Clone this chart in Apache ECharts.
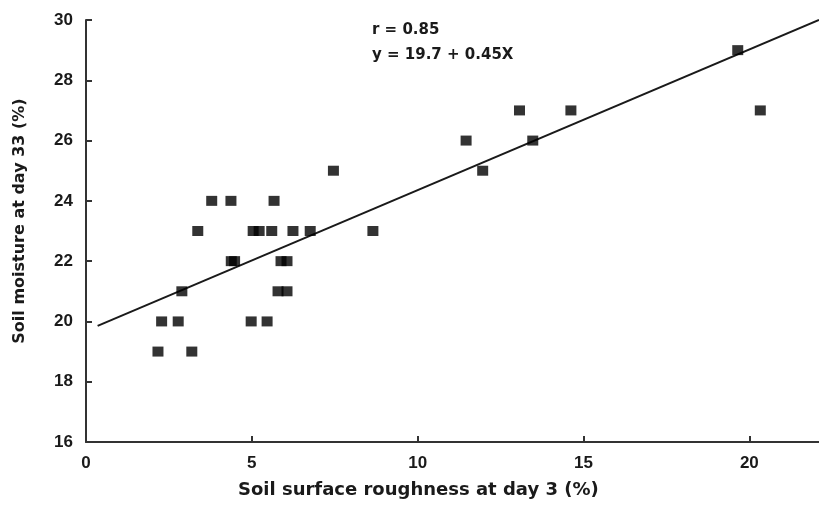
<!DOCTYPE html>
<html>
<head>
<meta charset="utf-8">
<script src="https://cdn.jsdelivr.net/npm/echarts@6/dist/echarts.min.js"></script>
<style>
  html, body { margin: 0; padding: 0; background: #fff; }
  #chart { width: 819px; height: 508px; }
</style>
</head>
<body>
<div id="chart"></div>
<script>
    // roughness at day 3 (%) vs moisture at day 33 (%)
    var roughness = [2.17, 2.28, 2.78, 2.89, 3.19, 3.37, 3.79, 4.37, 4.38, 4.48,
                     4.98, 5.46, 5.04, 5.22, 5.6, 5.67, 5.88, 6.06, 5.79, 6.06,
                     6.24, 6.76, 7.46, 8.65, 11.46, 11.96, 13.07, 13.47, 14.62, 19.65, 20.33];
    var moisture  = [19, 20, 20, 21, 19, 23, 24, 24, 22, 22,
                     20, 20, 23, 23, 23, 24, 22, 22, 21, 21,
                     23, 23, 25, 23, 26, 25, 27, 26, 27, 29, 27];
    // regression line ends as seen in the figure
    var fitX = [0.35, 22.1];
    var fitY = [19.85, 30.0];
    var annotation = ['r = 0.85', 'y = 19.7 + 0.45X'];

    var points = roughness.map(function (x, i) { return [x, moisture[i]]; });
    var fit = fitX.map(function (x, i) { return [x, fitY[i]]; });

    var tickFont = '"Liberation Sans", Arial, sans-serif';
    var titleFont = '"DejaVu Sans", sans-serif';
    var axisColor = '#333';

    var chart = echarts.init(document.getElementById('chart'));
    var option = {
        animation: false,
        backgroundColor: '#fff',
        grid: { left: 86, right: 0, top: 20, bottom: 66 },
        xAxis: {
            type: 'value',
            min: 0,
            max: 22.1,
            interval: 5,
            splitLine: { show: false },
            axisLine: { lineStyle: { color: axisColor, width: 2 } },
            axisTick: { inside: true, length: 6, lineStyle: { color: axisColor, width: 2 } },
            axisLabel: {
                showMaxLabel: false,
                margin: 13,
                color: '#1a1a1a',
                fontFamily: tickFont,
                fontWeight: 'bold',
                fontSize: 17
            }
        },
        yAxis: {
            type: 'value',
            min: 16,
            max: 30,
            interval: 2,
            splitLine: { show: false },
            axisLine: { lineStyle: { color: axisColor, width: 2 } },
            axisTick: { inside: true, length: 6, lineStyle: { color: axisColor, width: 2 } },
            axisLabel: {
                margin: 13,
                color: '#1a1a1a',
                fontFamily: tickFont,
                fontWeight: 'bold',
                fontSize: 17
            }
        },
        graphic: [
            {
                type: 'text', left: 238, top: 481,
                style: { text: 'Soil surface roughness at day 3 (%)', fill: '#1a1a1a',
                         font: 'bold 18px ' + titleFont }
            },
            {
                type: 'text', x: 20, y: 221, rotation: Math.PI / 2,
                style: { text: 'Soil moisture at day 33 (%)', fill: '#1a1a1a',
                         font: 'bold 16px ' + titleFont, align: 'center', verticalAlign: 'middle' }
            },
            {
                type: 'text', left: 372, top: 18,
                style: { text: annotation.join('\n'), fill: '#1a1a1a', lineHeight: 25,
                         font: 'bold 15px ' + titleFont }
            }
        ],
        series: [
            {
                type: 'line',
                data: fit,
                symbol: 'none',
                lineStyle: { color: '#1a1a1a', width: 2 },
                z: 2
            },
            {
                type: 'scatter',
                data: points,
                symbol: 'rect',
                symbolSize: [11, 10],
                itemStyle: { color: '#000' },
                z: 3
            }
        ]
    };
    chart.setOption(option);
</script>
</body>
</html>
